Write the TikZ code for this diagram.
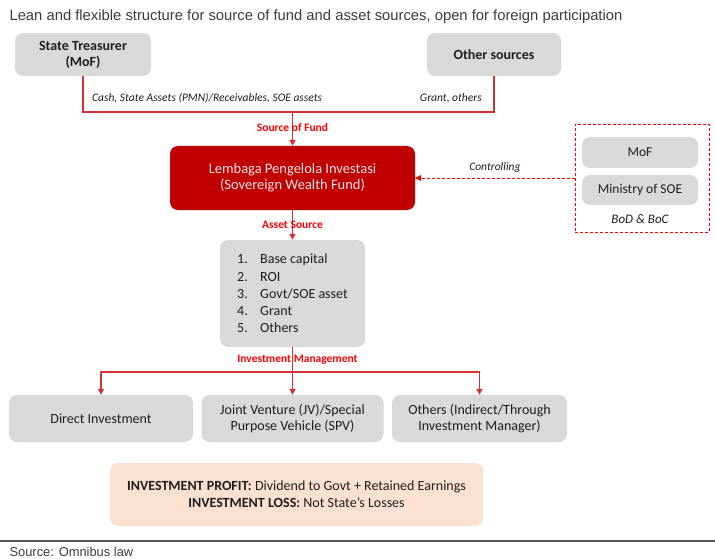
\documentclass[tikz,border=0pt]{standalone}
\usepackage{fontspec}
\setmainfont{Carlito}
\newfontfamily\arialfont{Liberation Sans}
\usetikzlibrary{arrows.meta}

\definecolor{boxgray}{RGB}{217,217,217}
\definecolor{swfred}{RGB}{192,0,0}
\definecolor{swftext}{RGB}{250,228,228}
\definecolor{linkred}{RGB}{210,50,50}
\definecolor{peach}{RGB}{251,225,210}
\definecolor{textgray}{RGB}{30,30,30}
\definecolor{titlegray}{RGB}{60,60,60}
\definecolor{rulegray}{RGB}{85,85,85}

\tikzset{
  graybox/.style={fill=boxgray, rounded corners=8pt, align=center, text=textgray, inner sep=0pt,
    font=\fontsize{14}{16}\selectfont},
  link/.style={draw=linkred, line width=1.2pt},
  linkarrow/.style={link, -{Triangle[length=6pt,width=6pt]}},
  redlabel/.style={text=red, inner sep=1pt, font=\fontsize{11.5}{13}\selectfont\bfseries},
  flowlabel/.style={text=textgray, inner sep=2pt, font=\fontsize{11.5}{13}\selectfont\itshape},
}

\begin{document}
\begin{tikzpicture}[x=1pt,y=-1pt]
	\useasboundingbox (0,0) rectangle (715,559);
	\node[anchor=west, text=titlegray, font=\arialfont\fontsize{14.8}{17}\selectfont] (title) at (6,17)
		{Lean and flexible structure for source of fund and asset sources, open for foreign participation};

	% sources of fund
	\node[graybox, minimum width=136pt, minimum height=43pt, font=\fontsize{14}{16}\selectfont\bfseries] (treasurer) at (83,54.5) {State Treasurer\\(MoF)};
	\node[graybox, minimum width=134pt, minimum height=43pt, font=\fontsize{14}{16}\selectfont\bfseries] (other) at (494,54.5) {Other sources};
	\node[flowlabel, anchor=west] (cashlbl) at (90,98) {Cash, State Assets (PMN)/Receivables, SOE assets};
	\node[flowlabel, anchor=east] (grantlbl) at (484,98) {Grant, others};

	% the fund itself
	\node[fill=swfred, rounded corners=8pt, minimum width=245pt, minimum height=64pt, align=center, text=swftext,
		font=\fontsize{14.5}{16}\selectfont] (swf) at (292.5,178) {Lembaga Pengelola Investasi\\(Sovereign Wealth Fund)};

	% controlling bodies
	\node[draw=red, densely dashed, line width=0.8pt, minimum width=134pt, minimum height=108pt] (ctrl) at (642,178) {};
	\node[graybox, minimum width=116pt, minimum height=31pt, font=\fontsize{13.5}{15}\selectfont] (mof) at (640,152.5) {MoF};
	\node[graybox, minimum width=116pt, minimum height=30pt, font=\fontsize{13.5}{15}\selectfont] (soe) at (640,190) {Ministry of SOE};
	\node[text=textgray, font=\fontsize{13}{15}\selectfont\itshape] (bod) at (640,219) {BoD \& BoC};

	% asset sources
	\node[graybox, minimum width=145pt, minimum height=107pt, align=left, font=\fontsize{14}{17.25}\selectfont] (list) at (292.5,293.5)
		{\makebox[23pt][l]{1.}Base capital\\\makebox[23pt][l]{2.}ROI\\\makebox[23pt][l]{3.}Govt/SOE asset\\
		 \makebox[23pt][l]{4.}Grant\\\makebox[23pt][l]{5.}Others};

	% investment channels
	\node[graybox, minimum width=184pt, minimum height=47pt] (direct) at (101,418.5) {Direct Investment};
	\node[graybox, minimum width=182pt, minimum height=47pt] (jv) at (292.5,418.5) {Joint Venture (JV)/Special\\Purpose Vehicle (SPV)};
	\node[graybox, minimum width=175pt, minimum height=47pt] (others) at (479.5,418.5) {Others (Indirect/Through\\Investment Manager)};

	\node[fill=peach, rounded corners=8pt, minimum width=373pt, minimum height=63pt, align=center, text=textgray,
		font=\fontsize{14}{17}\selectfont] (profit) at (296.5,494.5)
		{\textbf{INVESTMENT PROFIT:} Dividend to Govt + Retained Earnings\\\textbf{INVESTMENT LOSS:} Not State's Losses};

	% connectors
	\coordinate (fundjoin) at (292.5,112);
	\coordinate (mgmtjoin) at (292.5,372);
	\draw[link] (treasurer.south) |- (fundjoin) -| (other.south);
	\draw[linkarrow] (fundjoin) -- node[redlabel, pos=0.47] {Source of Fund} (swf.north);
	\draw[linkarrow] (swf.south) -- node[redlabel] {Asset Source} (list.north);
	\draw[link] (list.south) -- node[redlabel, xshift=5pt] {Investment Management} (mgmtjoin);
	\draw[linkarrow] (mgmtjoin) -- (jv.north);
	\draw[linkarrow] (mgmtjoin) -| (direct.north);
	\draw[linkarrow] (mgmtjoin) -| (others.north);
	\draw[draw=red, densely dashed, line width=0.8pt, -{Triangle[length=6pt,width=6pt]}] (ctrl.west) -- node[flowlabel, above=3pt] {Controlling} (swf.east);

	\draw[rulegray, line width=2pt] (0,541) -- (715,541);
	\node[anchor=west, text=titlegray, font=\arialfont\fontsize{12.9}{15}\selectfont] (source) at (6,552) {Source: Omnibus law};
\end{tikzpicture}
\end{document}
